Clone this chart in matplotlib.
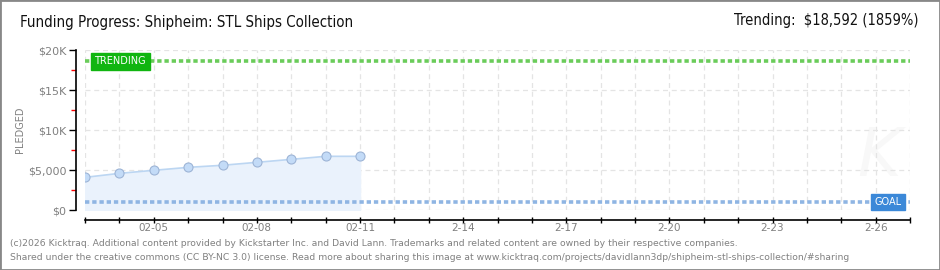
import datetime as dt
import matplotlib
matplotlib.use("Agg")
import matplotlib.pyplot as plt
import matplotlib.dates as mdates
from matplotlib.patches import Rectangle

plt.rcParams['font.family'] = ['DejaVu Sans']

# data
days = ['2026-02-03', '2026-02-04', '2026-02-05', '2026-02-06', '2026-02-07',
        '2026-02-08', '2026-02-09', '2026-02-10', '2026-02-11']
pledged = [4080, 4580, 4960, 5330, 5590, 5960, 6330, 6710, 6710]
goal = 1000
trending = 18592
x_start, x_end = '2026-02-03', '2026-02-27'
y_ticks = [0, 5000, 10000, 15000, 20000]
y_labels = ['$0', '$5,000', '$10K', '$15K', '$20K']
x_label_days = ['2026-02-05', '2026-02-08', '2026-02-11', '2026-02-14',
                '2026-02-17', '2026-02-20', '2026-02-23', '2026-02-26']
x_labels = ['02-05', '02-08', '02-11', '2-14', '2-17', '2-20', '2-23', '2-26']

dates = [dt.datetime.fromisoformat(d) for d in days]
x0 = dt.datetime.fromisoformat(x_start)
x1 = dt.datetime.fromisoformat(x_end)

fig = plt.figure(figsize=(9.4, 2.7), dpi=100)
fig.patch.set_facecolor('white')
ax = fig.add_axes([85 / 940, 1 - 210 / 270, 825 / 940, 160 / 270])

ax.set_xlim(x0, x1)
ax.set_ylim(0, 20000)

# grid
ax.grid(True, color='#e4e4e4', linestyle=(0, (4, 3)), linewidth=0.9)
ax.set_yticks(y_ticks)
ax.set_yticklabels(y_labels)
ax.set_yticks([2500, 7500, 12500, 17500], minor=True)
ax.tick_params(axis='y', which='minor', length=3.5, color='red', width=1)
ax.tick_params(axis='y', which='major', length=5, width=1, color='black',
               labelsize=8, labelcolor='#808080', pad=2)

# x ticks: every day, label every 3rd
ax.set_xticks([mdates.date2num(x0 + dt.timedelta(days=i)) for i in range(25)])
ax.set_xticklabels([''] * 25)
ax.tick_params(axis='x', which='major', length=5, width=1, color='black',
               direction='inout')
for d, lab in zip(x_label_days, x_labels):
    ax.annotate(lab, (mdates.date2num(dt.datetime.fromisoformat(d)), 0),
                xycoords=('data', 'axes fraction'), xytext=(0, -13),
                textcoords='offset points', ha='center', va='center',
                fontsize=7.5, color='#808080')

for s in ['top', 'right']:
    ax.spines[s].set_visible(False)
ax.spines['left'].set_position(('outward', 6.5))
ax.spines['bottom'].set_position(('outward', 7.2))
ax.spines['left'].set_linewidth(1.2)
ax.spines['bottom'].set_linewidth(1.2)

fig.text(20 / 940, 1 - 130 / 270, 'PLEDGED', rotation=90, fontsize=7,
         color='#808080', ha='center', va='center')

# data
ax.fill_between(dates, pledged, 0, color='#eaf2fc', zorder=2)
ax.plot(dates, pledged, color='#bcd6f2', linewidth=1.2, zorder=3)
ax.plot(dates, pledged, 'o', markersize=6.5, markerfacecolor='#c3dbf7',
        markeredgecolor='#9db4d6', markeredgewidth=0.8, zorder=4)

# trending and goal lines
ax.axhline(trending, color='#6acc5a', linewidth=2.6, linestyle=(0, (1.2, 0.8)),
           zorder=3)
ax.axhline(goal, color='#8fb5e3', linewidth=2.6, linestyle=(0, (1.2, 0.8)),
           zorder=3)

ax.text(0.0115, trending, 'TRENDING', transform=ax.get_yaxis_transform(),
        ha='left', va='center', fontsize=7, color='white', zorder=6,
        bbox=dict(boxstyle='square,pad=0.35', facecolor='#10b510', edgecolor='#10b510'))
ax.text(0.99, goal, 'GOAL', transform=ax.get_yaxis_transform(),
        ha='right', va='center', fontsize=7, color='white', zorder=6,
        bbox=dict(boxstyle='square,pad=0.35', facecolor='#3b88d8', edgecolor='#3b88d8'))

# faint watermark
ax.text(0.962, 0.33, 'K', transform=ax.transAxes, fontsize=48, style='italic',
        color='#f8f8f8', ha='center', va='center', zorder=1)

# titles
fig.text(20 / 940, 1 - 23 / 270, 'Funding Progress: Shipheim: STL Ships Collection',
         fontsize=10.8, stretch='condensed', color='#111111', ha='left', va='center')
fig.text(918 / 940, 1 - 21 / 270, 'Trending:  $18,592 (1859%)',
         fontsize=10.5, stretch='condensed', color='#111111', ha='right', va='center')

# footer
fig.text(10 / 940, 1 - 243 / 270,
         '(c)2026 Kicktraq. Additional content provided by Kickstarter Inc. and David Lann. '
         'Trademarks and related content are owned by their respective companies.',
         fontsize=6.65, color='#808080', ha='left', va='center')
fig.text(10 / 940, 1 - 257 / 270,
         'Shared under the creative commons (CC BY-NC 3.0) license. Read more about sharing '
         'this image at www.kicktraq.com/projects/davidlann3dp/shipheim-stl-ships-collection/#sharing',
         fontsize=6.65, color='#808080', ha='left', va='center')

# border
fig.patches.append(Rectangle((0, 0), 1, 1, transform=fig.transFigure, fill=False,
                             edgecolor='#888888', linewidth=2))

fig.savefig('out.png', dpi=100)
